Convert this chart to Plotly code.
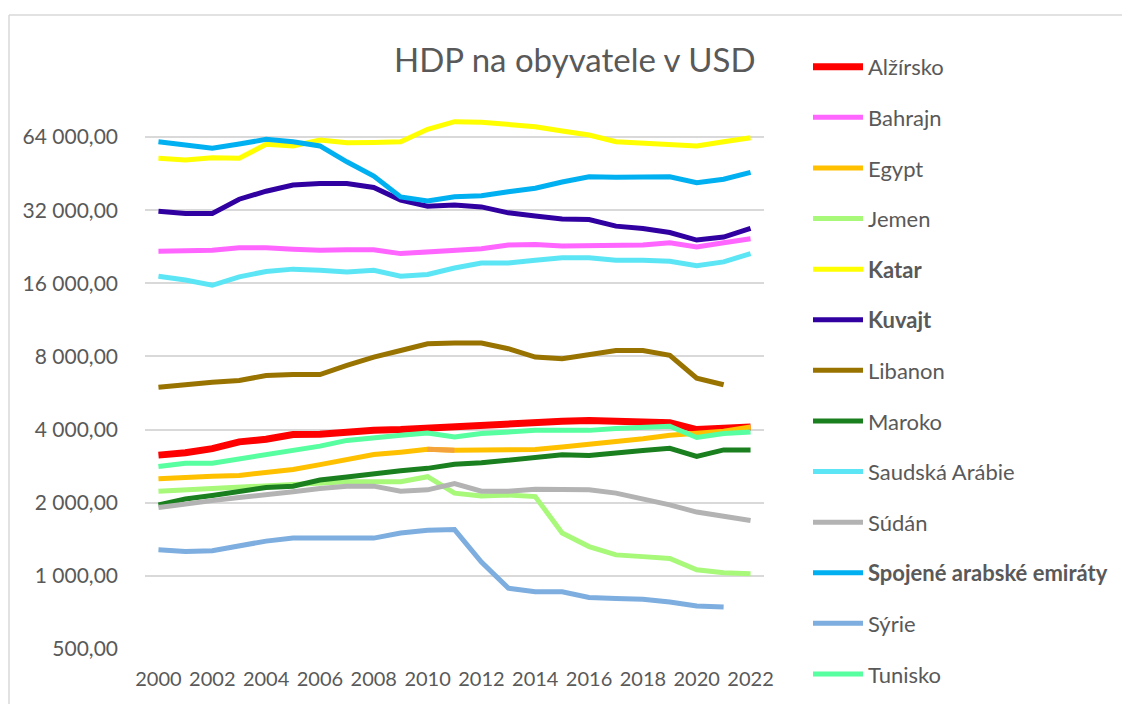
import plotly.graph_objects as go
import math

years = list(range(2000, 2023))

alzirsko = [3140, 3210, 3340, 3560, 3650, 3820, 3830, 3910, 3970, 4000, 4060, 4100, 4170,
            4200, 4270, 4330, 4360, 4330, 4300, 4270, 4000, 4040, 4100]
bahrajn = [21700, 21700, 21900, 22400, 22400, 22100, 21900, 22000, 22000, 21200, 21500, 21700,
           22200, 23000, 23100, 22800, 22800, 23000, 23000, 23500, 22600, 23500, 24400]
egypt = [2510, 2550, 2570, 2590, 2660, 2740, 2870, 3010, 3160, 3230, 3320, 3290, 3290,
         3290, 3310, 3390, 3470, 3560, 3670, 3790, 3850, 3940, 4100]
jemen = [2230, 2260, 2280, 2310, 2340, 2390, 2420, 2440, 2440, 2440, 2560, 2190, 2130,
         2150, 2120, 1500, 1320, 1220, 1200, 1180, 1060, 1030, 1020]
katar = [52300, 51500, 52600, 52300, 59700, 58800, 62200, 60600, 60800, 61200, 68900, 74000,
         73600, 72400, 70600, 67700, 65200, 61200, 60600, 59900, 58800, 61200, 63600]
kuvajt = [31700, 31000, 31000, 35500, 38300, 40600, 41200, 41200, 39700, 35200, 33200, 33600,
          33000, 31200, 30300, 29400, 29300, 27500, 26900, 25900, 24100, 24800, 26900]
libanon = [5980, 6140, 6270, 6370, 6680, 6740, 6740, 7350, 7950, 8460, 9020, 9080, 9080,
           8610, 7950, 7830, 8150, 8460, 8460, 8080, 6510, 6120]
maroko = [1960, 2070, 2140, 2230, 2310, 2340, 2480, 2550, 2640, 2710, 2770, 2880, 2920,
          3000, 3050, 3150, 3130, 3220, 3280, 3350, 3100, 3300, 3300]
saudska = [17100, 16500, 15700, 17000, 17900, 18300, 18100, 17800, 18100, 17100, 17400, 18500,
           19400, 19400, 19900, 20400, 20400, 19900, 19900, 19700, 18900, 19600, 21200]
sudan = [1910, 1980, 2040, 2100, 2150, 2220, 2290, 2340, 2340, 2230, 2260, 2400, 2230,
         2230, 2270, 2260, 2260, 2190, 2070, 1960, 1830, 1750, 1690]
sae = [61200, 59300, 57500, 59900, 62600, 61200, 58800, 50600, 44200, 36300, 34900, 36300,
       36700, 38100, 39400, 41800, 43900, 43700, 43900, 43900, 41500, 42900, 45800]
syrie = [1280, 1260, 1270, 1330, 1390, 1430, 1430, 1420, 1430, 1500, 1540, 1550, 1140,
         890, 860, 860, 815, 807, 802, 781, 752, 745]
tunisko = [2820, 2910, 2910, 3030, 3190, 3290, 3420, 3610, 3710, 3790, 3870, 3730, 3850,
           3910, 3970, 3970, 3970, 4040, 4100, 4130, 3710, 3850, 3910]

series = [
    ("Alžírsko", alzirsko, "#FF0000", 7, False),
    ("Bahrajn", bahrajn, "#FF66FF", 5, False),
    ("Egypt", egypt, "#FFC000", 5, False),
    ("Jemen", jemen, "#A8F87A", 5, False),
    ("Katar", katar, "#FFFF00", 5, True),
    ("Kuvajt", kuvajt, "#3100A0", 5, True),
    ("Libanon", libanon, "#997300", 5, False),
    ("Maroko", maroko, "#1A7F1E", 5, False),
    ("Saudská Arábie", saudska, "#5CE6F5", 5, False),
    ("Súdán", sudan, "#B3B3B3", 5, False),
    ("Spojené arabské emiráty", sae, "#00B0F0", 5, True),
    ("Sýrie", syrie, "#7DAEDF", 5, False),
    ("Tunisko", tunisko, "#57FFA0", 5, False),
]

ytick_vals = [500, 1000, 2000, 4000, 8000, 16000, 32000, 64000]
ytick_text = ["500,00", "1 000,00", "2 000,00", "4 000,00", "8 000,00",
              "16 000,00", "32 000,00", "64 000,00"]
xtick_vals = list(range(2000, 2023, 2))

FONT = "Lato"
GREY = "#595959"

fig = go.Figure()
for name, vals, color, width, bold in series:
    label = f"<b>{name}</b>" if bold else name
    fig.add_trace(go.Scatter(
        x=years[:len(vals)], y=vals, mode="lines", name=label,
        line=dict(color=color, width=width), legendgroup=name,
    ))
    if name == "Egypt":
        # highlighted data-point segment (2010-2011)
        fig.add_trace(go.Scatter(
            x=years[10:12], y=vals[10:12], mode="lines", showlegend=False,
            line=dict(color="#F4A33C", width=width), legendgroup=name,
        ))

# page offset (browser body margin)
OFF = 8
W, H = 1130, 704
L, R = 145 - OFF, 764 - OFF
T, B = 100 - OFF, 648.7 - OFF
px_per_oct = 73.1
bottom_val = 500
top_val = bottom_val * 2 ** ((B - T) / px_per_oct)


def px_x(p):
    return (p - OFF - L) / (R - L)


def px_y(p):
    return (B - (p - OFF)) / (B - T)


fig.update_layout(
    width=W, height=H,
    margin=dict(l=L, r=W - R, t=T, b=H - B, autoexpand=False),
    paper_bgcolor="white", plot_bgcolor="white",
    font=dict(family=FONT, color=GREY, size=20),
    showlegend=True,
    legend=dict(
        x=px_x(808), xanchor="left",
        y=px_y(46), yanchor="top",
        font=dict(family=FONT, size=22, color=GREY),
        tracegroupgap=19, itemwidth=50, maxheight=700,
        bgcolor="rgba(0,0,0,0)",
    ),
    xaxis=dict(
        range=[1999.5, 2022.5], tickmode="array", tickvals=xtick_vals,
        showgrid=False, zeroline=False, showline=False, ticks="",
        tickfont=dict(family=FONT, size=20, color=GREY),
        ticklabelstandoff=16,
    ),
    yaxis=dict(
        type="log", range=[math.log10(bottom_val), math.log10(top_val)],
        tickmode="array", tickvals=ytick_vals, ticktext=ytick_text,
        showgrid=True, gridcolor="#D9D9D9", gridwidth=1.5,
        zeroline=False, showline=False, ticks="",
        tickfont=dict(family=FONT, size=21, color=GREY),
        ticklabelstandoff=26,
    ),
    annotations=[dict(
        text="HDP na obyvatele v USD", xref="paper", yref="paper",
        x=px_x(758), xanchor="right",
        y=px_y(59), yanchor="middle",
        showarrow=False, font=dict(family=FONT, size=33, color=GREY),
    )],
    shapes=[
        dict(type="line", xref="paper", yref="paper",
             x0=px_x(9), x1=px_x(1140),
             y0=px_y(15), y1=px_y(15),
             line=dict(color="#D9D9D9", width=1.5)),
        dict(type="line", xref="paper", yref="paper",
             x0=px_x(9), x1=px_x(9),
             y0=px_y(15), y1=px_y(720),
             line=dict(color="#D9D9D9", width=1.5)),
    ],
)

fig.write_html("out.html")
